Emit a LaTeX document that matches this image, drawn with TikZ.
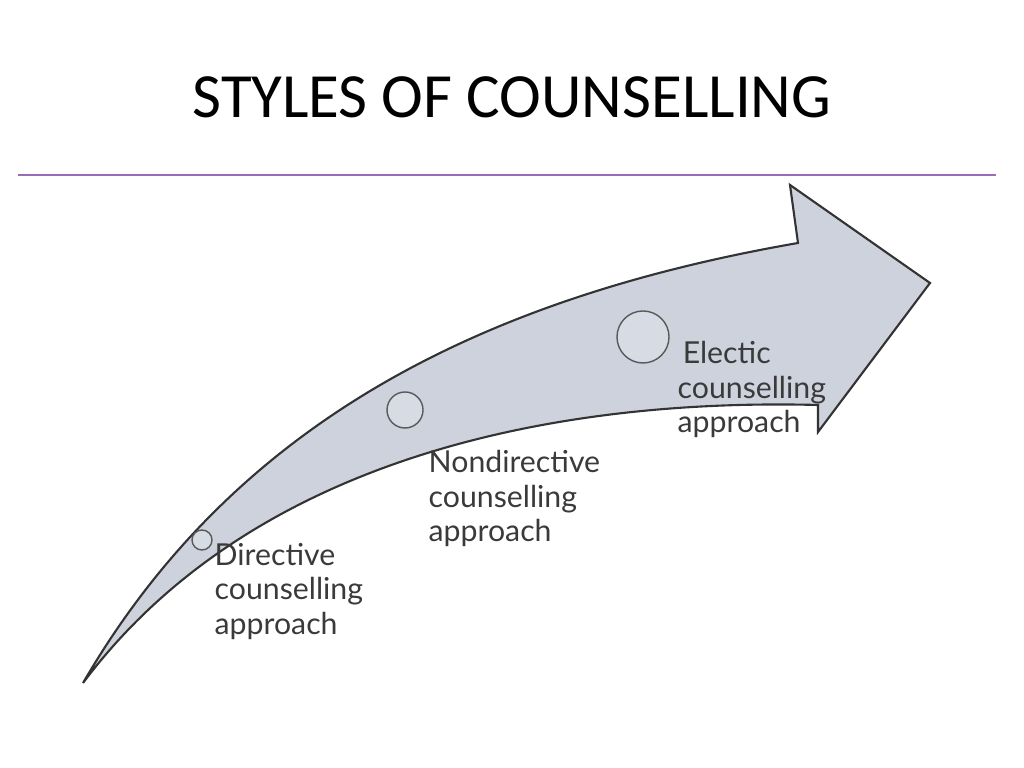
\documentclass[tikz,border=0pt]{standalone}
\usepackage{fontspec}
\setmainfont{Carlito}
\newfontfamily\labelfont{Lato}
\newcommand\stagefont{\labelfont\fontsize{8.6}{9.7}\selectfont\lineskiplimit=-5pt\relax}
\definecolor{arrowfill}{HTML}{CDD2DC}
\definecolor{rulepurple}{HTML}{9B6BB5}
\definecolor{labelgrey}{HTML}{3A3A3A}
\begin{document}
\begin{tikzpicture}[x=0.01cm,y=-0.01cm,
    stage/.style={circle, draw=gray!70!black, fill=arrowfill!80!white, inner sep=0pt},
    stagelabel/.style={anchor=north west, align=left, text=labelgrey, font=\stagefont, inner sep=0pt}]
    \useasboundingbox (0,0) rectangle (1024,768);

    % Title and rule
    \node[font=\fontsize{17.9}{21}\selectfont] (title) at (512,97) {STYLES OF COUNSELLING};
    \draw[rulepurple, line width=0.6pt] (18,175) -- (996,175);

    % Curved arrow
    \draw[gray!40!black, fill=arrowfill, line width=0.6pt]
        (83,683) .. controls (230,430) and (470,300) .. (798,243)
        -- (790,185) -- (930,283) -- (818,432) -- (818,405)
        .. controls (550,398) and (250,460) .. (83,683) -- cycle;

    % Stages
    \node[stage, minimum size=20*0.2845pt] (directive) at (202,540) {};
    \node[stage, minimum size=36*0.2845pt] (nondirective) at (405,410) {};
    \node[stage, minimum size=52*0.2845pt] (electic) at (643,337) {};

    \node[stagelabel] (directivetext) at (214,543) {Directive\\counselling\\approach};
    \node[stagelabel] (nondirectivetext) at (428,450) {Nondirective\\counselling\\approach};
    \node[stagelabel] (electictext) at (677,341) {\,Electic\\counselling\\approach};
\end{tikzpicture}
\end{document}
